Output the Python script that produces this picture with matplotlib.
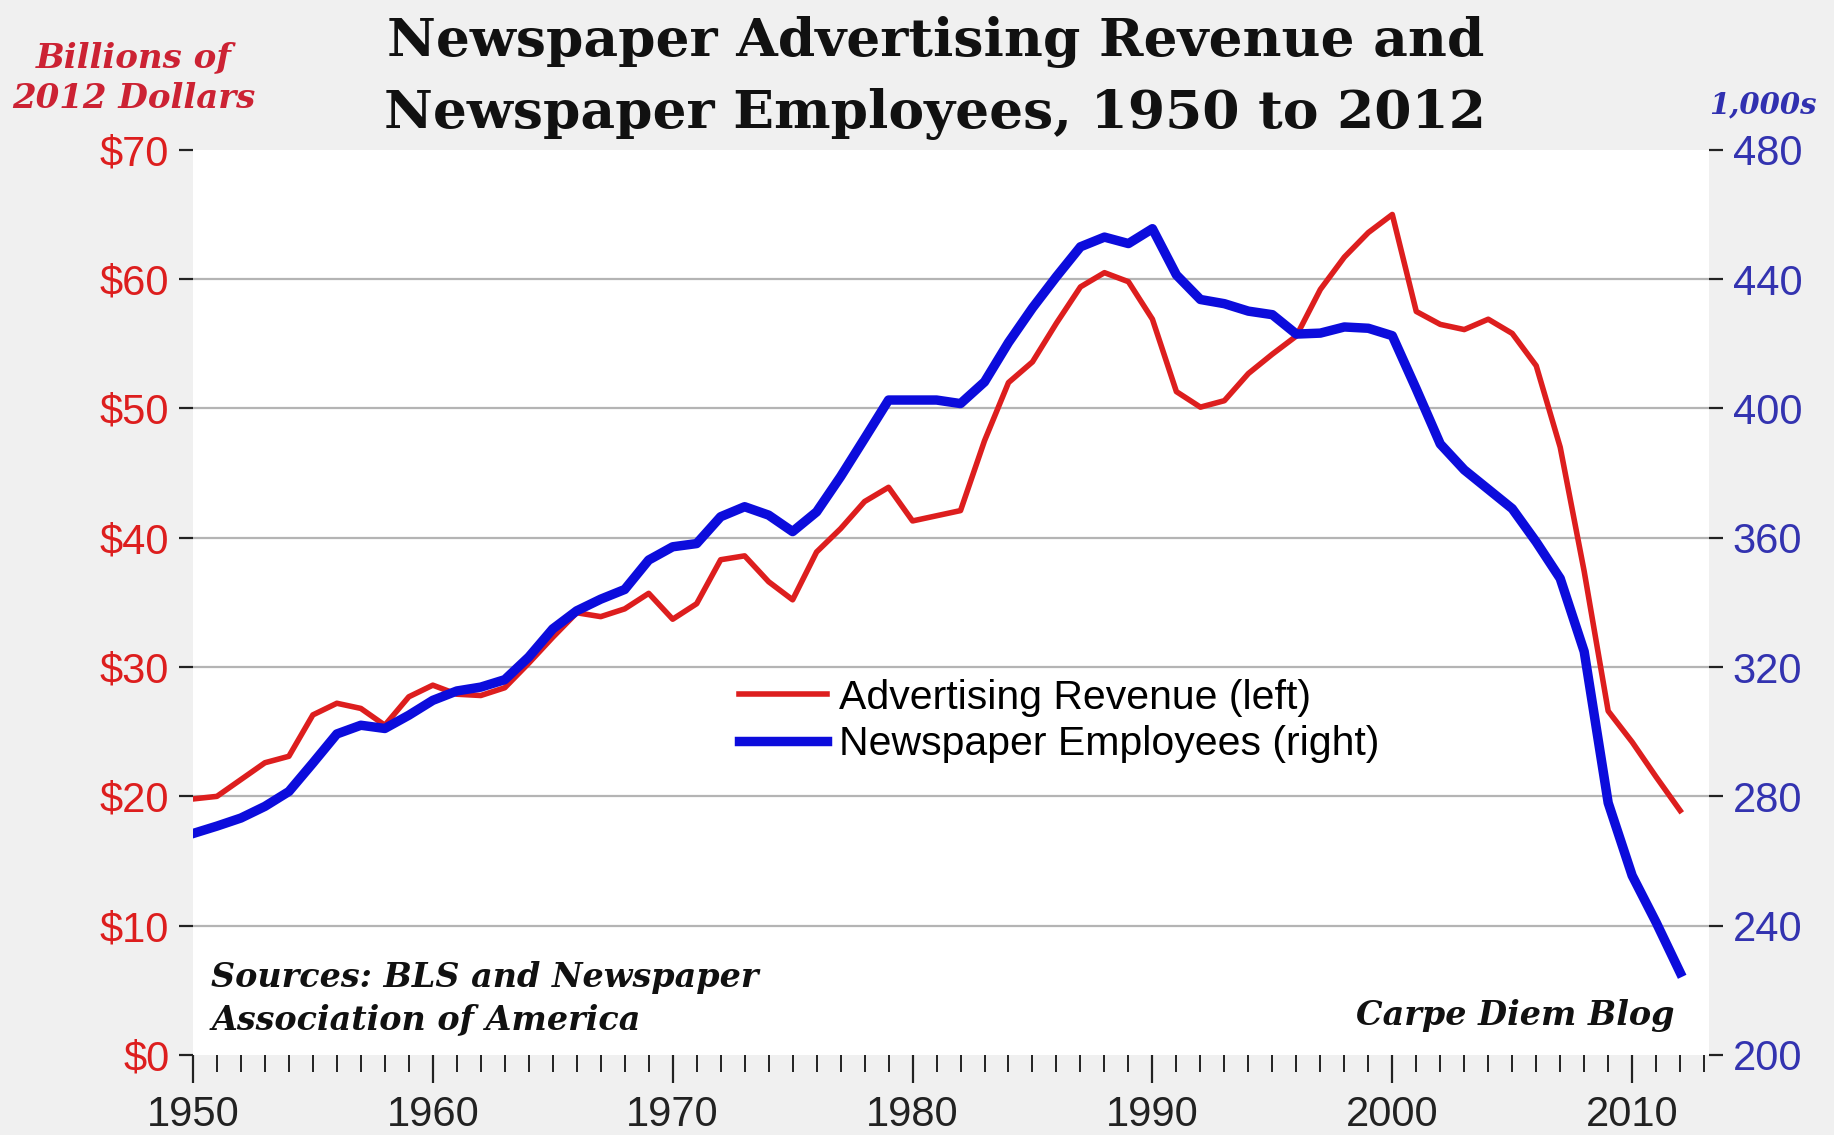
import numpy as np
import matplotlib
matplotlib.use("Agg")
import matplotlib.pyplot as plt
from matplotlib.ticker import MultipleLocator

years = list(range(1950, 2013))

# advertising revenue, billions of 2012 dollars (left axis)
revenue = [19.8, 20.0, 21.3, 22.6, 23.1, 26.3, 27.2, 26.8, 25.5, 27.7,
           28.6, 27.9, 27.8, 28.4, 30.3, 32.3, 34.2, 33.9, 34.5, 35.7,
           33.7, 34.9, 38.3, 38.6, 36.6, 35.2, 38.9, 40.7, 42.8, 43.9,
           41.3, 41.7, 42.1, 47.5, 52.0, 53.6, 56.6, 59.4, 60.5, 59.8,
           56.9, 51.3, 50.1, 50.6, 52.7, 54.2, 55.6, 59.2, 61.7, 63.6,
           65.0, 57.5, 56.5, 56.1, 56.9, 55.8, 53.3, 47.0, 37.4, 26.6,
           24.2, 21.5, 18.9]

# newspaper employees, thousands (right axis)
employees = [268.5, 270.8, 273.3, 276.9, 281.5, 290.3, 299.3, 302.0, 301.0, 305.1,
             309.7, 312.6, 313.8, 316.1, 323.1, 331.8, 337.4, 341.0, 344.0, 353.1,
             357.2, 358.2, 366.5, 369.6, 367.0, 361.9, 368.0, 378.9, 390.7, 402.6,
             402.6, 402.6, 401.5, 408.2, 420.4, 431.1, 440.8, 450.0, 453.0, 451.0,
             455.6, 441.3, 433.7, 432.4, 430.1, 429.0, 423.0, 423.3, 425.2, 424.8,
             422.5, 406.0, 389.0, 381.0, 375.0, 369.0, 358.7, 347.4, 324.8, 278.0,
             255.5, 241.0, 225.5]

left_ticks = [0, 10, 20, 30, 40, 50, 60, 70]
right_ticks = [200, 240, 280, 320, 360, 400, 440, 480]
x_ticks = [1950, 1960, 1970, 1980, 1990, 2000, 2010]

RED = "#dd1e1e"
BLUE = "#0c0cdc"
SANS = "Liberation Sans"
SERIF = "DejaVu Serif"

fig = plt.figure(figsize=(18.34, 11.35), dpi=100, facecolor="#f0f0f0")
ax = fig.add_axes([0.1052, 0.0705, 0.8266, 0.7975])
ax.set_facecolor("white")
ax2 = ax.twinx()

for y in left_ticks[1:-1]:
    ax.axhline(y, color="#b4b4b4", lw=1.6, zorder=0)

l1, = ax.plot(years, revenue, color=RED, lw=4.0, solid_joinstyle="round",
              label="Advertising Revenue (left)", zorder=3)
l2, = ax2.plot(years, employees, color=BLUE, lw=6.8, solid_joinstyle="round",
               label="Newspaper Employees (right)", zorder=3)

ax.set_xlim(1950, 2013.2)
ax.set_ylim(0, 70)
ax2.set_ylim(200, 480)
ax.set_yticks(left_ticks)
ax.set_yticklabels([f"${v}" for v in left_ticks])
ax2.set_yticks(right_ticks)
ax.set_xticks(x_ticks)
ax.xaxis.set_minor_locator(MultipleLocator(1))

for a in (ax, ax2):
    for s in a.spines.values():
        s.set_visible(False)

ax.tick_params(axis="y", length=10, width=1.6, pad=7, labelsize=30,
               labelcolor=RED, color="#222222")
ax2.tick_params(axis="y", length=10, width=1.6, pad=7, labelsize=30,
                labelcolor="#3333b0", color="#222222")
ax.tick_params(axis="x", which="major", length=20, width=1.6, pad=9,
               labelsize=30, labelcolor="#222222", color="#222222")
ax.tick_params(axis="x", which="minor", length=12, width=1.4, color="#222222")
for lab in ax.get_xticklabels() + ax.get_yticklabels() + ax2.get_yticklabels():
    lab.set_fontfamily(SANS)

fig.legend(handles=[l1, l2], loc="upper left", bbox_to_anchor=(0.403, 0.402),
           bbox_transform=fig.transFigure, frameon=False, borderpad=0,
           borderaxespad=0, handlelength=2.15, handletextpad=0.29,
           labelspacing=0.2, prop={"family": SANS, "size": 29.5})

fig.text(0.51, 0.963, "Newspaper Advertising Revenue and", ha="center", va="center",
         fontfamily=SERIF, fontweight="bold", fontsize=38.5, color="#111111")
fig.text(0.51, 0.9, "Newspaper Employees, 1950 to 2012", ha="center", va="center",
         fontfamily=SERIF, fontweight="bold", fontsize=38.5, color="#111111")

fig.text(0.073, 0.931, "Billions of\n2012 Dollars", ha="center", va="center",
         fontfamily=SERIF, fontweight="bold", fontstyle="italic", fontsize=24.5,
         color="#cc2233", linespacing=1.32)
fig.text(0.961, 0.908, "1,000s", ha="center", va="center",
         fontfamily=SERIF, fontweight="bold", fontstyle="italic", fontsize=21,
         color="#3030b0")

src_style = dict(transform=ax.transAxes, fontfamily=SERIF, fontweight="bold",
                 fontstyle="italic", fontsize=24, color="#111111", va="center")
ax.text(0.012, 0.086, "Sources: BLS and Newspaper", ha="left", **src_style)
ax.text(0.012, 0.039, "Association of America", ha="left", **src_style)
ax.text(0.9776, 0.044, "Carpe Diem Blog", ha="right", **src_style)

fig.savefig("out.png", dpi=100, facecolor=fig.get_facecolor())
